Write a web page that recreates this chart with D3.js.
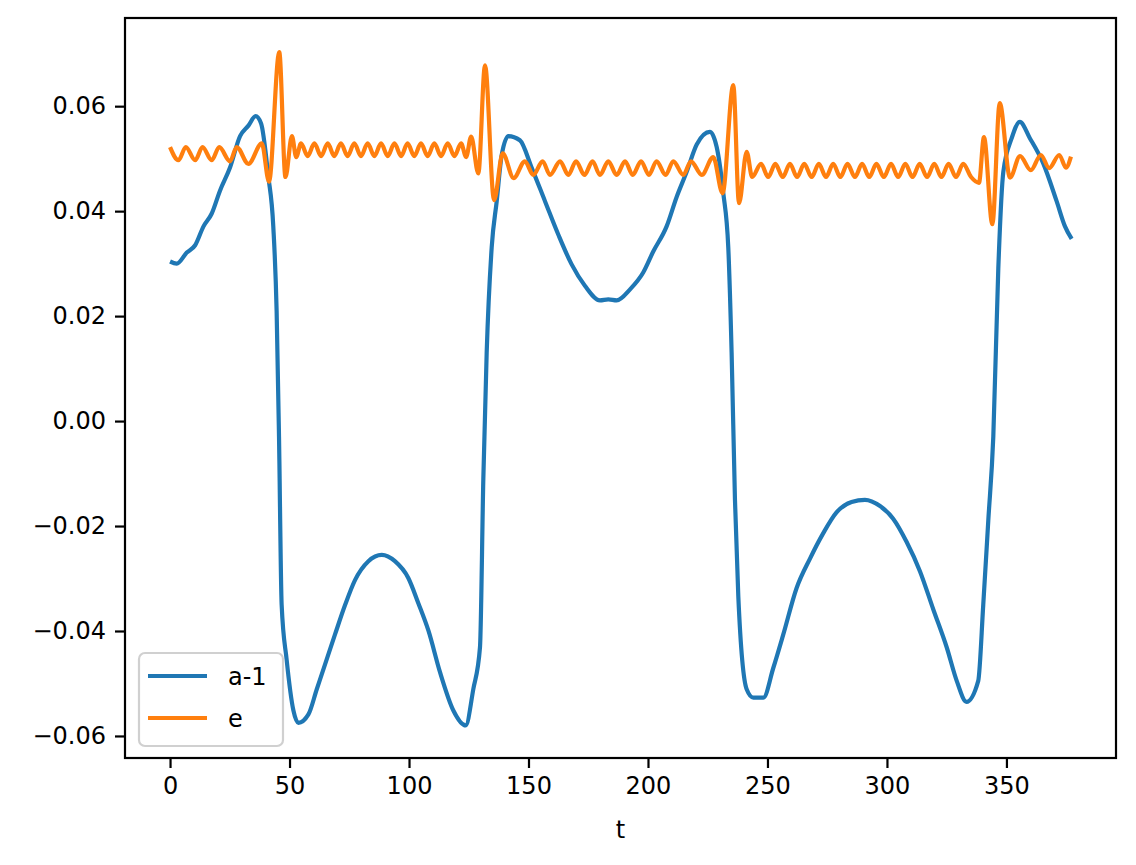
<!DOCTYPE html>
<html>
<head>
<meta charset="utf-8">
<script src="https://cdn.jsdelivr.net/npm/d3@7"></script>
<style>
  body { margin: 0; background: #fff; }
  text { font-family: "DejaVu Sans", sans-serif; }
</style>
</head>
<body>
<svg width="1136" height="865"></svg>
<script>
// a-1 series
var aT = [0, 2.8, 7, 10.5, 14, 17.4, 20.9, 25.1, 29.3, 32.8, 35.8, 38.1, 41.1, 43.2, 44.6, 45.6, 46.7, 48.8, 51.6, 53.7,
  57.9, 61.4, 64.9, 69, 73.2, 77.4, 83, 88.6, 94.1, 99.7, 103.9, 108.1, 113, 118.5, 123.7, 126.9, 129.7, 131.1, 132.5,
  134.6, 136.7, 138.8, 141.6, 146.4, 151.3, 156.9, 162.5, 168, 173.6, 179.9, 183.4, 186.9, 192.5, 198, 202.2, 207.8,
  212, 216.2, 220.4, 225.9, 228.7, 231.5, 233.6, 235, 236.4, 237.8, 241.3, 244.1, 248.3, 252.4, 256.6, 262.2, 267.8,
  273.3, 278.9, 285.2, 290.8, 297.1, 302.6, 308.2, 313.8, 319.4, 325, 329.2, 333.3, 338.2, 340.3, 342.4, 344.5, 346.6,
  348.7, 352.2, 355.6, 359.8, 365.4, 371, 374.5, 377.3];
var aV = [0.0304, 0.0300, 0.0321, 0.0335, 0.0371, 0.0395, 0.0439, 0.0483, 0.0543, 0.0563, 0.0581, 0.0567, 0.0467, 0.0371,
  0.0210, -0.0030, -0.0350, -0.0455, -0.0551, -0.0575, -0.0559, -0.0511, -0.0463, -0.0407, -0.0351, -0.0303, -0.0267,
  -0.0255, -0.0267, -0.0299, -0.0347, -0.0399, -0.0479, -0.0551, -0.0580, -0.0511, -0.0431, -0.0110, 0.0130, 0.0331,
  0.0419, 0.0507, 0.0543, 0.0535, 0.0483, 0.0419, 0.0355, 0.0299, 0.0258, 0.0230, 0.0232, 0.0230, 0.0251, 0.0283,
  0.0323, 0.0371, 0.0427, 0.0475, 0.0527, 0.0551, 0.0523, 0.0435, 0.0331, 0.0130, -0.0150, -0.0334, -0.0511, -0.0527,
  -0.0527, -0.0471, -0.0407, -0.0318, -0.0262, -0.0214, -0.0174, -0.0154, -0.0150, -0.0162, -0.0186, -0.0230, -0.0286,
  -0.0359, -0.0431, -0.0495, -0.0535, -0.0495, -0.0350, -0.0190, -0.0030, 0.0291, 0.0475, 0.0539, 0.0570, 0.0539,
  0.0491, 0.0419, 0.0371, 0.0347];

// e series: peaks and troughs
var eT = [0, 3.5, 6.6, 10.5, 13.6, 17.4, 20.6, 25.1, 27.9, 32.8, 38.4, 41.4, 45.7, 48.3, 51.0, 52.8, 54.8,
  57.6, 60.4, 63.2, 66, 68.7, 71.5, 74.3, 77.1, 79.9, 82.7, 85.5, 88.3, 91.1, 93.9, 96.7, 99.4, 102.2, 105, 107.8,
  110.6, 113.4, 116.2, 119.0, 121.8, 123.9, 126, 129, 131.8, 135.6, 139.2, 143.8, 148.5, 152, 155.9, 159, 163.2,
  166.7, 169.9, 173.4, 176.8, 179.9, 183.4, 186.9, 190.4, 193.6, 197.1, 200.4, 203.6, 207.4, 210.6, 214.8, 218,
  222.5, 227.3, 231.2, 235.7, 238.1, 241.3, 243.6, 247.3, 250.3, 253.3, 256.4, 259.4, 262.4, 265.4, 268.5, 271.5,
  274.5, 277.5, 280.5, 283.5, 286.6, 289.6, 292.6, 295.6, 298.7, 301.7, 304.7, 307.7, 310.7, 313.7, 316.8, 319.8,
  322.8, 325.8, 328.9, 331.9, 335.2, 338.5, 340.6, 344.1, 347.2, 351.5, 355.7, 360.2, 364.4, 367.9, 372.1, 374.9, 377];
var eV = [0.0522, 0.0497, 0.0522, 0.0497, 0.0522, 0.0497, 0.0522, 0.0495, 0.0522, 0.0490, 0.0529, 0.0456, 0.0703,
  0.0465, 0.0543, 0.0503, 0.0529,
  0.0505, 0.0529, 0.0505, 0.0529, 0.0505, 0.0529, 0.0505, 0.0529, 0.0505, 0.0529, 0.0505, 0.0529, 0.0505, 0.0529,
  0.0505, 0.0529, 0.0505, 0.0529, 0.0505, 0.0529, 0.0505, 0.0529, 0.0505, 0.0529, 0.0503, 0.0542, 0.0472, 0.0678,
  0.0421, 0.0510, 0.0463, 0.0495, 0.0469, 0.0495, 0.0469, 0.0495, 0.0469, 0.0495, 0.0469, 0.0495, 0.0469, 0.0495,
  0.0469, 0.0495, 0.0469, 0.0495, 0.0469, 0.0495, 0.0469, 0.0495, 0.0469, 0.0495, 0.0469, 0.0503, 0.0434, 0.0640,
  0.0415, 0.0513, 0.0465, 0.0490, 0.0465, 0.0490, 0.0465, 0.0490, 0.0465, 0.0490, 0.0465, 0.0490, 0.0465, 0.0490,
  0.0465, 0.0490, 0.0465, 0.0490, 0.0465, 0.0490, 0.0465, 0.0490, 0.0465, 0.0490, 0.0465, 0.0490, 0.0465, 0.0490,
  0.0465, 0.0490, 0.0465, 0.0490, 0.0465, 0.0454, 0.0541, 0.0375, 0.0606, 0.0464, 0.0505, 0.0478, 0.0507, 0.0482,
  0.0507, 0.0483, 0.0504];

var xTicks = [0, 50, 100, 150, 200, 250, 300, 350];
var yTicks = [-0.06, -0.04, -0.02, 0.00, 0.02, 0.04, 0.06];

var svg = d3.select('svg');
var box = { l: 125, r: 1116, t: 18, b: 758 };
var fontPx = 24;

var x = d3.scaleLinear().domain([-18.85, 395.85]).range([box.l, box.r]);
var y = d3.scaleLinear().domain([-0.0642, 0.0768]).range([box.b, box.t]);

// lines
var line = d3.line()
    .x(function(d) { return x(d[0]); })
    .y(function(d) { return y(d[1]); })
    .curve(d3.curveMonotoneX);

var aData = aT.map(function(t, i) { return [t, aV[i]]; });
var eData = eT.map(function(t, i) { return [t, eV[i]]; });

var plot = svg.append('g');
plot.append('path').datum(aData).attr('d', line)
    .attr('fill', 'none').attr('stroke', '#1f77b4').attr('stroke-width', 4.2).attr('stroke-linejoin', 'round');
plot.append('path').datum(eData).attr('d', line)
    .attr('fill', 'none').attr('stroke', '#ff7f0e').attr('stroke-width', 4.2).attr('stroke-linejoin', 'round');

// axes
var xAxis = svg.append('g')
    .attr('transform', 'translate(0,' + box.b + ')')
    .call(d3.axisBottom(x).tickValues(xTicks).tickSize(10).tickPadding(9).tickFormat(d3.format('d')));
var yAxis = svg.append('g')
    .attr('transform', 'translate(' + box.l + ',0)')
    .call(d3.axisLeft(y).tickValues(yTicks).tickSize(10).tickPadding(9)
        .tickFormat(function(d) { return d3.format('.2f')(d).replace('-', '\u2212'); }));

[xAxis, yAxis].forEach(function(g) {
    g.select('.domain').remove();
    g.selectAll('.tick line').attr('stroke', '#000').attr('stroke-width', 2.2);
    g.selectAll('.tick text').attr('fill', '#000')
        .style('font-family', '"DejaVu Sans", sans-serif').style('font-size', fontPx + 'px');
});

// frame
svg.append('rect')
    .attr('x', box.l).attr('y', box.t)
    .attr('width', box.r - box.l).attr('height', box.b - box.t)
    .attr('fill', 'none').attr('stroke', '#000').attr('stroke-width', 2.2);

svg.append('text')
    .attr('x', (box.l + box.r) / 2).attr('y', 838)
    .attr('text-anchor', 'middle')
    .style('font-size', fontPx + 'px')
    .text('t');

// legend
var legend = svg.append('g');
legend.append('rect')
    .attr('x', 139).attr('y', 653).attr('width', 144).attr('height', 93).attr('rx', 6)
    .attr('fill', 'rgba(255,255,255,0.8)').attr('stroke', '#d0d0d0').attr('stroke-width', 2.2);
var items = [['a-1', '#1f77b4'], ['e', '#ff7f0e']];
items.forEach(function(it, i) {
    var yy = 676 + i * 42;
    legend.append('line')
        .attr('x1', 148).attr('x2', 207).attr('y1', yy).attr('y2', yy)
        .attr('stroke', it[1]).attr('stroke-width', 4.2);
    legend.append('text')
        .attr('x', 228).attr('y', yy + 9)
        .style('font-size', fontPx + 'px')
        .text(it[0]);
});
</script>
</body>
</html>
